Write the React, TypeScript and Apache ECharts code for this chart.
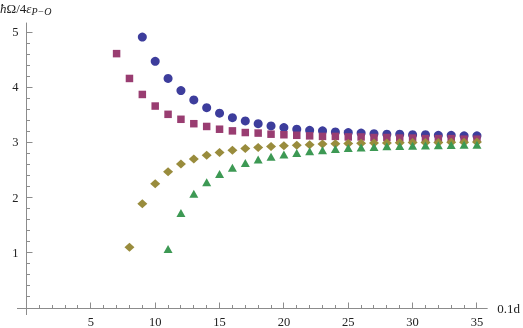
import React, { useEffect, useRef } from "react";
import * as echarts from "echarts";

const xTicks = [5, 10, 15, 20, 25, 30, 35];
const yTicks = [1, 2, 3, 4, 5];
const xMinorStep = 1;
const yMinorStep = 0.2;

const blueStart = 9;
const blueValues = [4.91, 4.47, 4.16, 3.94, 3.77, 3.63, 3.53, 3.45, 3.39, 3.34, 3.30, 3.27, 3.24, 3.22, 3.21, 3.19, 3.18, 3.17, 3.16, 3.15, 3.15, 3.14, 3.14, 3.13, 3.13, 3.12, 3.12];

const purpleStart = 7;
const purpleValues = [4.61, 4.16, 3.87, 3.66, 3.51, 3.42, 3.34, 3.29, 3.24, 3.21, 3.18, 3.17, 3.15, 3.14, 3.13, 3.12, 3.11, 3.11, 3.10, 3.10, 3.09, 3.09, 3.08, 3.08, 3.07, 3.07, 3.07, 3.06, 3.06];

const oliveStart = 8;
const oliveValues = [1.10, 1.89, 2.25, 2.47, 2.61, 2.70, 2.77, 2.82, 2.86, 2.89, 2.91, 2.925, 2.94, 2.95, 2.96, 2.97, 2.975, 2.98, 2.985, 2.99, 2.99, 2.995, 3.0, 3.0, 3.0, 3.005, 3.005, 3.01];

const greenStart = 11;
const greenValues = [1.07, 1.72, 2.07, 2.28, 2.43, 2.54, 2.63, 2.69, 2.74, 2.78, 2.81, 2.84, 2.86, 2.88, 2.90, 2.91, 2.92, 2.93, 2.935, 2.94, 2.945, 2.95, 2.955, 2.96, 2.96];

const toPairs = (start: number, vals: number[]) => vals.map((v, i) => [start + i, v]);

const FONT = "Liberation Serif";
const AXIS_COLOR = "#8c8c8c";
const TICK_COLOR = "#8c8c8c";
const TEXT_COLOR = "#222";
const X_MAX = 35.8;
const Y_MAX = 5.165;

export default function App() {
  const ref = useRef<HTMLDivElement>(null);
  useEffect(() => {
    if (!ref.current) return;
    const chart = echarts.init(ref.current, undefined, { renderer: "svg" });
    const option: any = {
      animation: false,
      grid: { left: 26.5, right: 35, top: 23, bottom: 19.4 },
      xAxis: {
        type: "value",
        min: 0,
        max: X_MAX,
        interval: 5,
        axisLine: { show: true, lineStyle: { color: AXIS_COLOR, width: 1 } },
        splitLine: { show: false },
        axisTick: { show: false },
        minorTick: { show: false },
        name: "0.1d",
        nameLocation: "end",
        nameGap: 10,
        nameTextStyle: { fontFamily: FONT, fontSize: 13, color: TEXT_COLOR, align: "left", verticalAlign: "middle" },
        axisLabel: {
          fontFamily: FONT,
          fontSize: 12.5,
          color: TEXT_COLOR,
          margin: 7,
          formatter: (v: number) => (xTicks.indexOf(v) >= 0 ? String(v) : ""),
        },
      },
      yAxis: {
        type: "value",
        min: 0,
        max: Y_MAX,
        interval: 1,
        axisLine: { show: true, lineStyle: { color: AXIS_COLOR, width: 1 } },
        splitLine: { show: false },
        axisTick: { show: false },
        minorTick: { show: false },
        axisLabel: {
          fontFamily: FONT,
          fontSize: 12.5,
          color: TEXT_COLOR,
          margin: 8,
          formatter: (v: number) => (yTicks.indexOf(v) >= 0 ? String(v) : ""),
        },
      },
      series: [
        { type: "scatter", data: toPairs(blueStart, blueValues), symbol: "circle", symbolSize: 9, itemStyle: { color: "#3d3d9c", opacity: 1 } },
        { type: "scatter", data: toPairs(purpleStart, purpleValues), symbol: "rect", symbolSize: 7.5, itemStyle: { color: "#993d71", opacity: 1 } },
        { type: "scatter", data: toPairs(oliveStart, oliveValues), symbol: "diamond", symbolSize: [10, 9], itemStyle: { color: "#998c3d", opacity: 1 } },
        { type: "scatter", data: toPairs(greenStart, greenValues), symbol: "triangle", symbolSize: [9, 8], itemStyle: { color: "#3d9954", opacity: 1 } },
      ],
    };
    chart.setOption(option);
    const px = (x: number, y: number) => chart.convertToPixel({ gridIndex: 0 } as any, [x, y]) as number[];
    const o = px(0, 0);
    const ax = Math.round(o[0] - 0.5) + 0.5;
    const ay = Math.round(o[1] - 0.5) + 0.5;
    const stroke = { stroke: TICK_COLOR, lineWidth: 1 };
    const ticks: any[] = [];
    for (let i = 1; i * xMinorStep < X_MAX; i++) {
      const v = i * xMinorStep;
      const major = xTicks.indexOf(v) >= 0;
      const x = Math.round(px(v, 0)[0] - 0.5) + 0.5;
      ticks.push({ type: "line", silent: true, shape: { x1: x, y1: ay, x2: x, y2: ay - (major ? 6 : 3.5) }, style: stroke });
    }
    for (let i = 1; i * yMinorStep <= 5.0001; i++) {
      const v = Math.round(i * yMinorStep * 10) / 10;
      const major = yTicks.indexOf(v) >= 0;
      const y = Math.round(px(0, v)[1] - 0.5) + 0.5;
      ticks.push({ type: "line", silent: true, shape: { x1: ax, y1: y, x2: ax + (major ? 6 : 3.5), y2: y }, style: stroke });
    }
    chart.setOption({
      graphic: [
        {
          type: "text",
          left: 0,
          top: 2,
          style: {
            text: "{i|ħ}Ω/4{i|ε}{sub|P−O}",
            rich: {
              i: { fontFamily: FONT, fontSize: 13, fontStyle: "italic", fill: TEXT_COLOR },
              sub: { fontFamily: FONT, fontSize: 10, fontStyle: "italic", fill: TEXT_COLOR, padding: [6, 0, 0, 0] },
            },
            fontFamily: FONT,
            fontSize: 13,
            fill: TEXT_COLOR,
          },
        },
        { type: "line", silent: true, shape: { x1: 17, y1: ay, x2: ax, y2: ay }, style: { stroke: AXIS_COLOR, lineWidth: 1 } },
        { type: "line", silent: true, shape: { x1: ax, y1: ay, x2: ax, y2: ay + 6.5 }, style: { stroke: AXIS_COLOR, lineWidth: 1 } },
        ...ticks,
      ],
    });
    return () => chart.dispose();
  }, []);
  return <div ref={ref} style={{ position: "fixed", left: 0, top: 0, width: 523, height: 328 }} />;
}
